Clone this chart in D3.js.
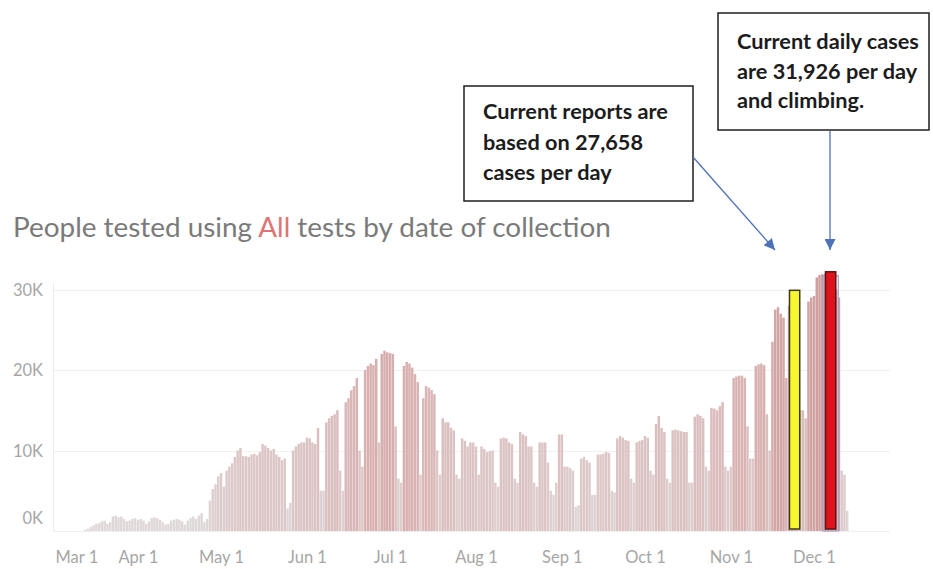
<!DOCTYPE html>
<html>
<head>
<meta charset="utf-8">
<script src="https://cdn.jsdelivr.net/npm/d3@7"></script>
<style>
  html, body { margin: 0; padding: 0; background: #fff; }
  svg { display: block; }
</style>
</head>
<body>
<div id="chart"></div>
<script>
// ---------------------------------------------------------------------------
// People tested using All tests by date of collection (daily bars, 2020)
// ---------------------------------------------------------------------------

// datos: un valor por día desde el 13 de marzo
const firstDay = Date.UTC(2020, 2, 13);
const dailyTests = [
  150, 300,
  500, 700, 900, 1000, 1200, 1300, 900,
  1100, 1800, 1900, 1700, 1800, 1500, 1200,
  1300, 1500, 1600, 1400, 1500, 1300, 900,
  1200, 1600, 1700, 1600, 1400, 1100, 800,
  900, 1300, 1400, 1500, 1400, 1200, 800,
  1300, 1600, 1800, 1500, 1900, 2200, 1100,
  1500, 3800, 5200, 5800, 6800, 7200, 5500,
  7500, 8000, 8400, 9200, 10000, 10300, 9300,
  9300, 9200, 9500, 9600, 9400, 9800, 10800,
  10600, 10300, 10000, 10200, 9500, 9200, 8800,
  9000, 2800, 3500, 10000, 10500, 10800, 11000,
  11000, 11600, 11500, 11000, 10800, 12800, 5000,
  5000, 13500, 14000, 14300, 14500, 15000, 7500,
  5000, 16000, 16500, 17500, 18000, 19000, 10000,
  8000, 20000, 20500, 20800, 20600, 21400, 11000,
  22000, 22400, 22200, 22100, 22000, 13000, 6500,
  6000, 20500, 21000, 20800, 20300, 19500, 18500,
  7000, 16500, 18000, 17800, 17500, 17000, 10000,
  7000, 14000, 13500, 13500, 12800, 12500, 7000,
  6500, 11500, 11200, 10500, 11000, 11000, 10500,
  7000, 10500, 10200, 9800, 9900, 10000, 6000,
  5500, 11500, 11600, 11500, 11000, 10800, 6500,
  6000, 12300, 12000, 11800, 10500, 10500, 6000,
  5500, 11000, 11000, 11000, 8500, 5000, 4500,
  6000, 12000, 12000, 8000, 8000, 7800, 7500,
  3000, 3200, 9000, 9200, 8800, 8500, 4500,
  4500, 9500, 9500, 9600, 9800, 9700, 5000,
  4800, 11500, 11800, 11600, 11300, 11200, 6500,
  6000, 11000, 11200, 11300, 11800, 11600, 7500,
  7000, 13300, 14300, 12800, 12300, 6500, 6000,
  12500, 12600, 12500, 12400, 12300, 12300, 6000,
  6000, 14200, 14500, 14300, 14000, 8000, 7500,
  15300, 15200, 15000, 15500, 16000, 8000, 7500,
  8000, 19000, 19200, 19300, 19300, 19000, 13000,
  9000, 9000, 20500, 20700, 20800, 20600, 14500,
  10000, 23500, 27500, 27800, 27000, 26500, 19000,
  28000, 29000, 27000, 20000, 15000, 15000, 14000,
  28500, 29000, 29200, 31500, 31800, 31900, 32000,
  32000, 31500, 30500, 30000, 29000, 7500, 7000, 2500
];

// ejes
const xTickDates = [
  Date.UTC(2020, 2, 1), Date.UTC(2020, 3, 1), Date.UTC(2020, 4, 1),
  Date.UTC(2020, 5, 1), Date.UTC(2020, 6, 1), Date.UTC(2020, 7, 1),
  Date.UTC(2020, 8, 1), Date.UTC(2020, 9, 1), Date.UTC(2020, 10, 1),
  Date.UTC(2020, 11, 1)
];
const yTicks = [0, 10000, 20000, 30000];

// barras resaltadas (dibujadas encima)
const highlightDates  = [Date.UTC(2020, 10, 24), Date.UTC(2020, 11, 7)];
const highlightValues = [29900, 32200];

// textos
const titleParts = ['People tested using ', 'All', ' tests by date of collection'];
const noteReports = ['Current reports are', 'based on 27,658', 'cases per day'];
const noteDaily   = ['Current daily cases', 'are 31,926 per day', 'and climbing.'];

// ---------------------------------------------------------------------------
const W = 933, H = 569;
const plot = { left: 53, right: 890, top: 283, base: 531 };
const chartFont = "Lato, 'Open Sans', sans-serif";

const svg = d3.select('#chart')
  .append('svg')
    .attr('width', W)
    .attr('height', H)
    .style('font-family', chartFont);

const x = d3.scaleUtc()
  .domain([Date.UTC(2020, 2, 1), Date.UTC(2020, 11, 1)])
  .range([52, 814]);

const y = d3.scaleLinear()
  .domain([0, 30000])
  .range([plot.base, 289.5]);

const dayPx = x(Date.UTC(2020, 2, 2)) - x(Date.UTC(2020, 2, 1));
const barW = dayPx - 0.3;

const barColor = d3.scaleLinear()
  .domain([0, 20000, 32000])
  .range(['#e0dbdb', '#d9b1b1', '#cf9d9d']);

const bars = dailyTests.map((v, i) => ({
  date: d3.utcDay.offset(new Date(firstDay), i),
  value: v
}));

// rejilla
svg.append('g')
  .selectAll('line')
  .data(yTicks)
  .join('line')
    .attr('x1', plot.left)
    .attr('x2', plot.right)
    .attr('y1', d => Math.round(y(d)) + 0.5)
    .attr('y2', d => Math.round(y(d)) + 0.5)
    .attr('stroke', '#f0f0f0');

svg.append('line')
  .attr('x1', plot.left + 0.5).attr('x2', plot.left + 0.5)
  .attr('y1', plot.top).attr('y2', plot.base)
  .attr('stroke', '#ececec');

// barras
svg.append('g')
  .selectAll('rect')
  .data(bars)
  .join('rect')
    .attr('x', d => x(d.date) - barW / 2)
    .attr('width', barW)
    .attr('y', d => y(d.value))
    .attr('height', d => y(0) - y(d.value))
    .attr('fill', d => barColor(d.value));

// eje Y
const yAxis = svg.append('g')
  .attr('transform', `translate(${plot.left - 10},0)`)
  .call(d3.axisLeft(y)
    .tickValues(yTicks)
    .tickSize(0)
    .tickPadding(0)
    .tickFormat(d => `${d / 1000}K`));
yAxis.select('.domain').remove();
yAxis.selectAll('text')
  .attr('font-family', chartFont)
  .attr('font-size', 16.5)
  .attr('fill', '#a6a6a6')
  .attr('dy', d => d === 0 ? '-0.45em' : '0.35em');

// eje X
const xAxis = svg.append('g')
  .attr('transform', `translate(0,${plot.base})`)
  .call(d3.axisBottom(x)
    .tickValues(xTickDates.map(d => new Date(d)))
    .tickSize(0)
    .tickPadding(20)
    .tickFormat(d3.utcFormat('%b %-d')));
xAxis.select('.domain').remove();
xAxis.selectAll('text')
  .attr('font-family', chartFont)
  .attr('font-size', 16.5)
  .attr('fill', '#a6a6a6')
  .filter((d, i) => i === 0)
    .attr('text-anchor', 'start')
    .attr('x', 3);

// resaltados
const hlWidth = dayPx * 3.7;
const hl = svg.append('g');
hl.append('rect')
  .attr('x', x(new Date(highlightDates[1])) - hlWidth / 2 - 2.5)
  .attr('width', hlWidth + 5)
  .attr('y', y(highlightValues[1]) + 4)
  .attr('height', y(0) - y(highlightValues[1]) - 4)
  .attr('fill', 'none')
  .attr('stroke', '#a89bc8')
  .attr('stroke-width', 1.2);

const hlStyles = [
  { fill: '#f7f731', stroke: '#3b3a1c' },
  { fill: '#e0121c', stroke: '#5e1414' }
];
hl.selectAll('rect.hl')
  .data(highlightDates.map((d, i) => ({ date: new Date(d), value: highlightValues[i], s: hlStyles[i] })))
  .join('rect')
    .attr('class', 'hl')
    .attr('x', d => x(d.date) - hlWidth / 2)
    .attr('width', hlWidth)
    .attr('y', d => y(d.value))
    .attr('height', d => y(0) - y(d.value) - 2)
    .attr('fill', d => d.s.fill)
    .attr('stroke', d => d.s.stroke)
    .attr('stroke-width', 1.5);

// título
const title = svg.append('text')
  .attr('x', 13)
  .attr('y', 237)
  .attr('font-size', 20)
  .attr('fill', '#7a7a7a');
titleParts.forEach((t, i) => {
  title.append('tspan')
    .attr('fill', i === 1 ? '#de7574' : null)
    .text(t);
});
title.attr('font-size', 20 * 598 / title.node().getComputedTextLength());

// flechas
const arrowColor = '#4d72b6';
svg.append('defs').append('marker')
    .attr('id', 'arrow')
    .attr('viewBox', '0 0 10 10')
    .attr('refX', 10).attr('refY', 5)
    .attr('markerWidth', 12).attr('markerHeight', 11)
    .attr('markerUnits', 'userSpaceOnUse')
    .attr('orient', 'auto')
  .append('path')
    .attr('d', 'M0,0 L10,5 L0,10 Z')
    .attr('fill', arrowColor);

// notas
function note(lines, box, tx, firstBase, lineGap, target) {
  const g = svg.append('g');
  g.append('rect')
    .attr('x', box[0]).attr('y', box[1])
    .attr('width', box[2]).attr('height', box[3])
    .attr('fill', '#fff')
    .attr('stroke', '#1e1e1e')
    .attr('stroke-width', 1.5);
  const txt = g.selectAll('text')
    .data(lines)
    .join('text')
      .attr('x', tx)
      .attr('y', (d, i) => firstBase + i * lineGap)
      .attr('font-family', "Lato, 'Open Sans', sans-serif")
      .attr('font-weight', 700)
      .attr('font-size', 18)
      .attr('fill', '#1c1c1c')
      .text(d => d);
  const w0 = txt.node().getComputedTextLength();
  txt.attr('font-size', 18 * target / w0);
}

note(noteReports, [464, 86, 229, 115], 483, 119, 30.5, 185);
note(noteDaily, [718, 13, 211, 117], 737, 49, 29.5, 182);

svg.append('line')
  .attr('x1', 693).attr('y1', 157)
  .attr('x2', 775).attr('y2', 250)
  .attr('stroke', arrowColor)
  .attr('stroke-width', 1.3)
  .attr('marker-end', 'url(#arrow)');

svg.append('line')
  .attr('x1', 830).attr('y1', 131)
  .attr('x2', 830).attr('y2', 250)
  .attr('stroke', arrowColor)
  .attr('stroke-width', 1.3)
  .attr('marker-end', 'url(#arrow)');
</script>
</body>
</html>
